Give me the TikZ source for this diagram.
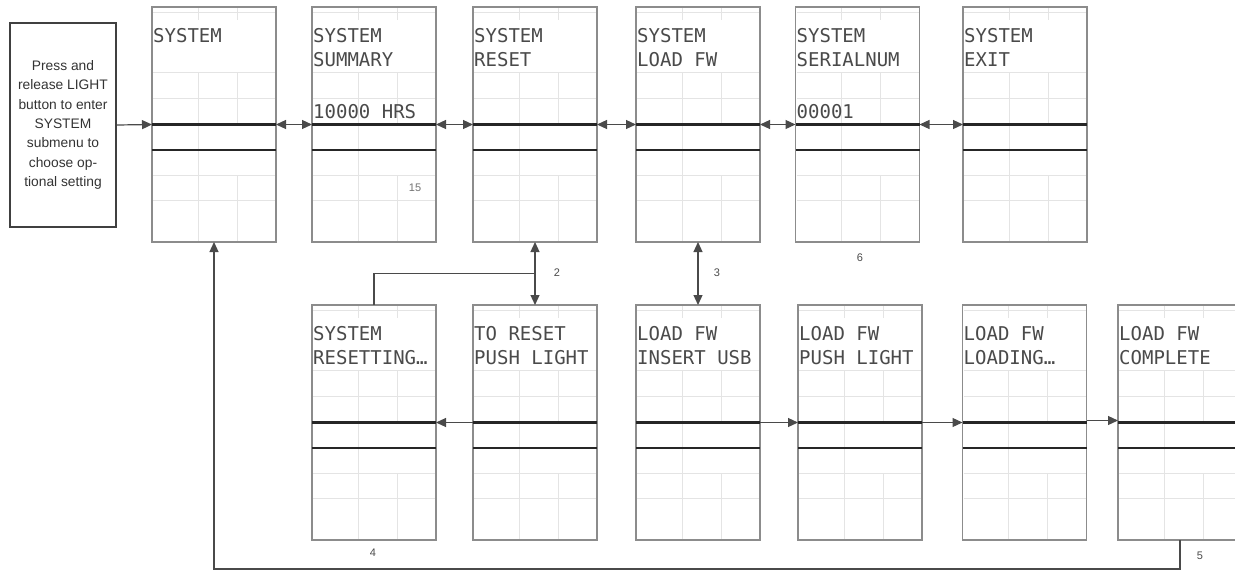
\documentclass[tikz,border=0pt]{standalone}
\usepackage{fontspec}
\setmainfont{Liberation Sans}
\newfontfamily\lcdfont{DejaVu Sans Mono}
\usetikzlibrary{arrows.meta,calc}
\definecolor{framec}{HTML}{8C8C8C}
\definecolor{gridc}{HTML}{E4E4E4}
\definecolor{barc}{HTML}{262626}
\definecolor{txtc}{HTML}{4A4A4A}
\definecolor{linec}{HTML}{4A4A4A}
\tikzset{
  screen/.style={rectangle, draw=framec, line width=1.4pt, fill=white,
    minimum width=124pt, minimum height=235pt, inner sep=0pt, outer sep=0pt},
  gridline/.style={draw=gridc, line width=0.8pt},
  bar/.style={draw=barc, line width=3pt},
  bartwo/.style={draw=barc, line width=2.3pt},
  lcdtext/.style={anchor=base west, inner sep=0pt, text=txtc,
    font=\lcdfont\fontsize{19}{19}\selectfont},
  intro/.style={rectangle, draw=black!75, line width=1.5pt, minimum width=106pt,
    minimum height=204pt, align=center, inner sep=0pt, text=black!80,
    font=\fontsize{13.8}{19.3}\selectfont},
  lbl/.style={inner sep=0pt, text=txtc, font=\fontsize{11}{11}\selectfont},
  tip/.tip={Triangle[length=10pt,width=9pt]},
  conn/.style={draw=linec, line width=1.2pt},
  arr/.style={conn, -tip},
  darr/.style={conn, tip-tip}
}
\newcommand{\lcdscreen}[5]{%
  \node[screen] (#1) at (#2,#3) {};
  \begin{scope}[shift={(#1.north west)}]
    \draw[gridline] (1,5) -- (123,5) (1,65) -- (123,65) (1,91) -- (123,91)
      (1,168) -- (123,168) (1,193) -- (123,193);
    \draw[gridline] (46,1) -- (46,13) (46,65) -- (46,234) (85,1) -- (85,13)
      (85,65) -- (85,117) (85,168) -- (85,234);
    \draw[bar] (0,117) -- (124,117);
    \draw[bartwo] (0,143) -- (124,143);
    \node[lcdtext] (#1-a) at (1,35) {#4};
    \node[lcdtext] (#1-b) at (1,59) {#5};
  \end{scope}
}
\begin{document}
\begin{tikzpicture}[x=1pt, y=-1pt]
\useasboundingbox (0,0) rectangle (1235,571);
\clip (0,0) rectangle (1235,571);

\node[intro] (intro) at (63,125) {Press and\\release LIGHT\\button to enter\\SYSTEM\\submenu to\\choose op-\\tional setting};

% top row
\lcdscreen{sys}{214}{124.5}{SYSTEM}{}
\lcdscreen{sum}{374}{124.5}{SYSTEM}{SUMMARY}
\lcdscreen{rst}{535}{124.5}{SYSTEM}{RESET}
\lcdscreen{lfw}{698}{124.5}{SYSTEM}{LOAD FW}
\lcdscreen{ser}{857.5}{124.5}{SYSTEM}{SERIALNUM}
\lcdscreen{ext}{1025}{124.5}{SYSTEM}{EXIT}
\node[lcdtext] (sum-c) at ($(sum.north west)+(1,111)$) {10000 HRS};
\node[lcdtext] (ser-c) at ($(ser.north west)+(1,111)$) {00001};

% bottom row
\lcdscreen{rsg}{374}{422.5}{SYSTEM}{RESETTING…}
\lcdscreen{trs}{535}{422.5}{TO RESET}{PUSH LIGHT}
\lcdscreen{ins}{698}{422.5}{LOAD FW}{INSERT USB}
\lcdscreen{psh}{860}{422.5}{LOAD FW}{PUSH LIGHT}
\lcdscreen{ldg}{1024.5}{422.5}{LOAD FW}{LOADING…}
\lcdscreen{cmp}{1180}{422.5}{LOAD FW}{COMPLETE}

% connectors top row
\draw[arr] (intro.east) -- (sys.west);
\draw[darr] (sys.east) -- (sum.west);
\draw[darr] (sum.east) -- (rst.west);
\draw[darr] (rst.east) -- (lfw.west);
\draw[darr] (lfw.east) -- (ser.west);
\draw[darr] (ser.east) -- (ext.west);

% vertical links
\draw[darr] (rst.south) -- (trs.north);
\coordinate (br) at ($(rst.south)!0.5!(trs.north)$);
\draw[conn] (rsg.north) |- (br);
\draw[darr] (lfw.south) -- (ins.north);

% bottom row
\draw[arr] (trs.west) -- (rsg.east);
\draw[arr] (ins.east) -- (psh.west);
\draw[arr] (psh.east) -- (ldg.west);
\draw[arr] ([yshift=2pt]ldg.east) -- ([yshift=2pt]cmp.west);

% feedback
\coordinate (fb) at ($(cmp.south)+(0,29)$);
\draw[arr] (cmp.south) -- (fb) -| (sys.south);

% labels
\node[lbl] (n2) at (557,273) {2};
\node[lbl] (n3) at (717,273) {3};
\node[lbl] (n6) at (860,258) {6};
\node[lbl] (n4) at (373,553) {4};
\node[lbl] (n5) at (1200,556) {5};
\node[lbl, text=black!55] (n15) at (415,188) {15};
\end{tikzpicture}
\end{document}
